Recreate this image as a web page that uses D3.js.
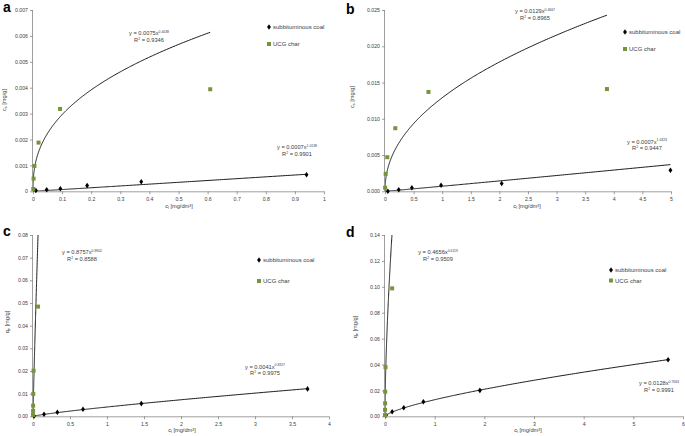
<!DOCTYPE html>
<html><head><meta charset="utf-8">
<script src="https://cdn.jsdelivr.net/npm/d3@7"></script>
<style>
html,body{margin:0;padding:0;background:#fff;}
svg{display:block;font-family:"Liberation Sans",Arial,sans-serif;}
</style></head>
<body><svg id="chart" width="685" height="436"></svg>
<script>
// ---------- DATA ----------
const panelLetters = ["a","b","c","d"];
const seriesNames = ["subbituminous coal","UCG char"];

const aCoalX = [0.010, 0.047, 0.094, 0.186, 0.372, 0.940];
const aCoalY = [0.00003, 0.00006, 0.00010, 0.00022, 0.00037, 0.00064];
const aCharX = [0.001, 0.002, 0.005, 0.019, 0.093, 0.609];
const aCharY = [0.00009, 0.00049, 0.00098, 0.00188, 0.00318, 0.00394];

const bCoalX = [0.05, 0.24, 0.47, 0.98, 2.04, 4.99];
const bCoalY = [0.00000, 0.00022, 0.00050, 0.00083, 0.00108, 0.00290];
const bCharX = [0.002, 0.012, 0.040, 0.180, 0.760, 3.880];
const bCharY = [0.0005, 0.0024, 0.0047, 0.0087, 0.0137, 0.0141];

const cCoalX = [0.014, 0.149, 0.329, 0.676, 1.464, 3.710];
const cCoalY = [0.0001, 0.0009, 0.0018, 0.0031, 0.0056, 0.0121];
const cCharX = [0.0003, 0.001, 0.002, 0.004, 0.008, 0.068];
const cCharY = [0.0006, 0.0024, 0.0047, 0.0099, 0.0201, 0.0484];

const dCoalX = [0.02, 0.144, 0.378, 0.773, 1.91, 5.70];
const dCoalY = [0.0008, 0.0035, 0.0066, 0.0112, 0.0200, 0.0437];
const dCharX = [0.0005, 0.001, 0.002, 0.004, 0.010, 0.144];
const dCharY = [0.0010, 0.0050, 0.0100, 0.0190, 0.0380, 0.0988];

// power trendlines y = k * x^n  [k, n]
const aFitCoal = [0.0007, 1.0138], aFitChar = [0.0075, 0.4038];
const bFitCoal = [0.0007, 1.0323], bFitChar = [0.0129, 0.4667];
const cFitCoal = [0.0041, 0.8317], cFitChar = [0.8757, 0.8902];
const dFitCoal = [0.0128, 0.7063], dFitChar = [0.4656, 0.6119];

const aR2 = ["0.9901", "0.9346"];
const bR2 = ["0.9447", "0.8965"];
const cR2 = ["0.9975", "0.8588"];
const dR2 = ["0.9991", "0.9509"];

const aXTicks = [0,0.1,0.2,0.3,0.4,0.5,0.6,0.7,0.8,0.9,1];
const aYTicks = [0,0.001,0.002,0.003,0.004,0.005,0.006,0.007];
const aYLabels = ["0","0.001","0.002","0.003","0.004","0.005","0.006","0.007"];
const bXTicks = [0,0.5,1,1.5,2,2.5,3,3.5,4,4.5,5];
const bYTicks = [0,0.005,0.010,0.015,0.020,0.025];
const bYLabels = ["0.000","0.005","0.010","0.015","0.020","0.025"];
const cXTicks = [0,0.5,1,1.5,2,2.5,3,3.5,4];
const cYTicks = [0,0.01,0.02,0.03,0.04,0.05,0.06,0.07,0.08];
const cYLabels = ["0.00","0.01","0.02","0.03","0.04","0.05","0.06","0.07","0.08"];
const dXTicks = [0,1,2,3,4,5,6];
const dYTicks = [0,0.02,0.04,0.06,0.08,0.10,0.12,0.14];
const dYLabels = ["0.00","0.02","0.04","0.06","0.08","0.10","0.12","0.14"];

const yTitleSub = ["s","s","e","e"];
const yTitleMain = ["c","c","q","q"];

// ---------- LAYOUT ----------
const GREEN = "#77933C";
const AX = "#868686";
const TXT = "#404040";
const svg = d3.select("#chart");

const panels = [
  {L:panelLetters[0], coal:[aCoalX,aCoalY], chr:[aCharX,aCharY], fc:aFitCoal, fh:aFitChar, r2:aR2,
   xt:aXTicks, yt:aYTicks, yl:aYLabels, xd:[0,1], yd:[0,0.007], xr:[33,324], yr:[191.3,10],
   letter:[3,12], leg:[269,27,44], eqChar:[149,35], eqCoal:[297,149], yTitle:[6,100], xTitle:[179,208], sub:0},
  {L:panelLetters[1], coal:[bCoalX,bCoalY], chr:[bCharX,bCharY], fc:bFitCoal, fh:bFitChar, r2:bR2,
   xt:bXTicks, yt:bYTicks, yl:bYLabels, xd:[0,5], yd:[0,0.025], xr:[385,671], yr:[191.3,10],
   letter:[346,13.5], leg:[625,32,49], eqChar:[535,13], eqCoal:[647,143.5], yTitle:[354,97], xTitle:[527,208], sub:1},
  {L:panelLetters[2], coal:[cCoalX,cCoalY], chr:[cCharX,cCharY], fc:cFitCoal, fh:cFitChar, r2:cR2,
   xt:cXTicks, yt:cYTicks, yl:cYLabels, xd:[0,4], yd:[0,0.08], xr:[33,329], yr:[416.3,235],
   letter:[3,236], leg:[259,260,281], eqChar:[82,254], eqCoal:[265,368.5], yTitle:[9,322], xTitle:[182,432], sub:2},
  {L:panelLetters[3], coal:[dCoalX,dCoalY], chr:[dCharX,dCharY], fc:dFitCoal, fh:dFitChar, r2:dR2,
   xt:dXTicks, yt:dYTicks, yl:dYLabels, xd:[0,6], yd:[0,0.14], xr:[385,683], yr:[416.3,235],
   letter:[346,236.5], leg:[611,270,280.5], eqChar:[438,254], eqCoal:[659,385], yTitle:[357,327], xTitle:[528,432], sub:3}
];

const FS = 5.2;
const FE = 5.7;
const FL = 6.0;

function supText(g, x, y, main, sup, after, anchor) {
  const t = g.append("text").attr("x", x).attr("y", y).attr("text-anchor", anchor || "middle")
    .attr("font-size", FE).attr("fill", TXT);
  t.append("tspan").text(main);
  t.append("tspan").attr("dy", -2.2).attr("font-size", FE*0.6).text(sup);
  if (after) t.append("tspan").attr("dy", 2.2).text(after);
  return t;
}

panels.forEach((p, i) => {
  const g = svg.append("g");
  const x = d3.scaleLinear().domain(p.xd).range(p.xr);
  const y = d3.scaleLinear().domain(p.yd).range(p.yr);

  const clipId = "clip" + i;
  svg.append("clipPath").attr("id", clipId).append("rect")
    .attr("x", p.xr[0]).attr("y", p.yr[1]).attr("width", p.xr[1]-p.xr[0]).attr("height", p.yr[0]-p.yr[1]);

  // axes
  const xAxis = d3.axisBottom(x).tickValues(p.xt).tickSize(3).tickPadding(3)
    .tickFormat(d => d3.format("~g")(d));
  const gx = g.append("g").attr("transform", `translate(0,${p.yr[0]})`).call(xAxis);
  const yAxis = d3.axisLeft(y).tickValues(p.yt).tickSize(3).tickPadding(2)
    .tickFormat((d, k) => p.yl[k]);
  const gy = g.append("g").attr("transform", `translate(${p.xr[0]},0)`).call(yAxis);
  [gx, gy].forEach(a => {
    a.select(".domain").attr("stroke", AX).attr("stroke-width", 0.8);
    a.selectAll(".tick line").attr("stroke", AX).attr("stroke-width", 0.8);
    a.selectAll(".tick text").attr("font-size", FS).attr("fill", TXT)
      .attr("font-family", "'Liberation Sans',Arial,sans-serif");
  });
  gx.select(".domain").attr("d", `M${p.xr[0]},0.5H${p.xr[1]}`);
  gy.select(".domain").attr("d", `M-0.5,${p.yr[0]}V${p.yr[1]}`);

  // trend lines
  const line = d3.line().x(d => x(d[0])).y(d => y(d[1]));
  function curve(fit, xs) {
    const xmax = d3.max(xs);
    const pts = [];
    const N = 300;
    for (let k = 0; k <= N; k++) {
      const t = k / N;
      const xv = xmax * Math.pow(t, 3);
      pts.push([xv, fit[0] * Math.pow(xv, fit[1])]);
    }
    return pts;
  }
  const lg = g.append("g").attr("clip-path", `url(#${clipId})`);
  lg.append("path").attr("d", line(curve(p.fh, p.chr[0]))).attr("fill", "none")
    .attr("stroke", "#000").attr("stroke-width", 0.9);
  lg.append("path").attr("d", line(curve(p.fc, p.coal[0]))).attr("fill", "none")
    .attr("stroke", "#000").attr("stroke-width", 0.9);

  // markers
  const diamond = d3.symbol().type(d3.symbolDiamond).size(9);
  g.selectAll(".coal").data(d3.zip(p.coal[0], p.coal[1])).join("path")
    .attr("d", diamond).attr("transform", d => `translate(${x(d[0])},${y(d[1])}) scale(1.2,1)`).attr("fill", "#000");
  g.selectAll(".char").data(d3.zip(p.chr[0], p.chr[1])).join("rect")
    .attr("x", d => x(d[0]) - 2).attr("y", d => y(d[1]) - 2).attr("width", 4).attr("height", 4)
    .attr("fill", GREEN);

  // legend
  g.append("path").attr("d", diamond).attr("transform", `translate(${p.leg[0]},${p.leg[1]}) scale(1.2,1)`).attr("fill", "#000");
  g.append("text").attr("x", p.leg[0] + 4).attr("y", p.leg[1] + 2).attr("font-size", FL).attr("fill", TXT).text(seriesNames[0]);
  g.append("rect").attr("x", p.leg[0] - 2).attr("y", p.leg[2] - 2).attr("width", 4).attr("height", 4).attr("fill", GREEN);
  g.append("text").attr("x", p.leg[0] + 4).attr("y", p.leg[2] + 2).attr("font-size", FL).attr("fill", TXT).text(seriesNames[1]);

  // equations
  supText(g, p.eqChar[0], p.eqChar[1], `y = ${p.fh[0].toFixed(4)}x`, p.fh[1].toFixed(4));
  supText(g, p.eqChar[0], p.eqChar[1] + 6.8, "R", "2", ` = ${p.r2[1]}`);
  supText(g, p.eqCoal[0], p.eqCoal[1], `y = ${p.fc[0].toFixed(4)}x`, p.fc[1].toFixed(4));
  supText(g, p.eqCoal[0], p.eqCoal[1] + 6.8, "R", "2", ` = ${p.r2[0]}`);

  // axis titles
  const yt = g.append("text").attr("transform", `translate(${p.yTitle[0]},${p.yTitle[1]}) rotate(-90)`)
    .attr("text-anchor", "middle").attr("font-size", FE).attr("fill", TXT);
  yt.append("tspan").text(yTitleMain[p.sub]);
  yt.append("tspan").attr("dy", 1.3).attr("font-size", FE * 0.65).text(yTitleSub[p.sub]);
  yt.append("tspan").attr("dy", -1.3).text(" [mg/g]");

  const xtl = g.append("text").attr("x", p.xTitle[0]).attr("y", p.xTitle[1])
    .attr("text-anchor", "middle").attr("font-size", FE).attr("fill", TXT);
  xtl.append("tspan").text("c");
  xtl.append("tspan").attr("dy", 1.3).attr("font-size", FE * 0.65).text("l");
  xtl.append("tspan").attr("dy", -1.3).text(" [mg/dm³]");

  // panel letter
  g.append("text").attr("x", p.letter[0]).attr("y", p.letter[1]).attr("font-size", 14)
    .attr("font-weight", "bold").attr("fill", "#000").text(p.L);
});
</script>
</body></html>
